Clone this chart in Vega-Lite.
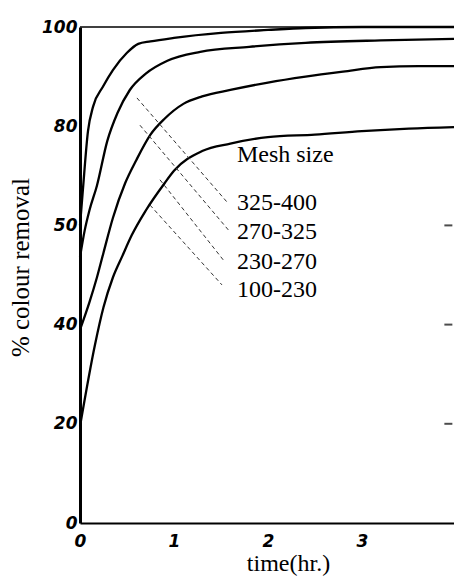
{
  "$schema": "https://vega.github.io/schema/vega-lite/v6.json",
  "width": 374,
  "height": 496,
  "autosize": {"type": "none"},
  "padding": {"left": 80, "top": 27, "right": 0, "bottom": 62},
  "background": "white",
  "config": {"view": {"stroke": null}},
  "datasets": {
    "curves": [
      {"mesh": "325-400", "t": 0, "p": 60},
      {"mesh": "325-400", "t": 0.03, "p": 67},
      {"mesh": "325-400", "t": 0.085, "p": 79},
      {"mesh": "325-400", "t": 0.14, "p": 84},
      {"mesh": "325-400", "t": 0.245, "p": 88},
      {"mesh": "325-400", "t": 0.35, "p": 91.3},
      {"mesh": "325-400", "t": 0.5, "p": 94.8},
      {"mesh": "325-400", "t": 0.62, "p": 96.6},
      {"mesh": "325-400", "t": 0.75, "p": 97.1},
      {"mesh": "325-400", "t": 1.0, "p": 97.8},
      {"mesh": "325-400", "t": 1.5, "p": 98.8},
      {"mesh": "325-400", "t": 2.0, "p": 99.4},
      {"mesh": "325-400", "t": 2.4, "p": 99.8},
      {"mesh": "325-400", "t": 3.0, "p": 100},
      {"mesh": "325-400", "t": 3.98, "p": 100},
      {"mesh": "270-325", "t": 0, "p": 53.6},
      {"mesh": "270-325", "t": 0.05, "p": 59},
      {"mesh": "270-325", "t": 0.1, "p": 63},
      {"mesh": "270-325", "t": 0.18, "p": 68},
      {"mesh": "270-325", "t": 0.29, "p": 77},
      {"mesh": "270-325", "t": 0.4, "p": 82.7},
      {"mesh": "270-325", "t": 0.53, "p": 87.3},
      {"mesh": "270-325", "t": 0.7, "p": 90.6},
      {"mesh": "270-325", "t": 0.93, "p": 93.2},
      {"mesh": "270-325", "t": 1.28, "p": 95},
      {"mesh": "270-325", "t": 1.8, "p": 96},
      {"mesh": "270-325", "t": 2.4, "p": 96.8},
      {"mesh": "270-325", "t": 3.2, "p": 97.3},
      {"mesh": "270-325", "t": 3.98, "p": 97.6},
      {"mesh": "230-270", "t": 0, "p": 39},
      {"mesh": "230-270", "t": 0.1, "p": 44.5},
      {"mesh": "230-270", "t": 0.18, "p": 49.5},
      {"mesh": "230-270", "t": 0.25, "p": 54.5},
      {"mesh": "230-270", "t": 0.35, "p": 61.5},
      {"mesh": "230-270", "t": 0.48, "p": 68.5},
      {"mesh": "230-270", "t": 0.6, "p": 73.2},
      {"mesh": "230-270", "t": 0.75, "p": 78.3},
      {"mesh": "230-270", "t": 0.9, "p": 81.5},
      {"mesh": "230-270", "t": 1.1, "p": 84.5},
      {"mesh": "230-270", "t": 1.3, "p": 86},
      {"mesh": "230-270", "t": 1.6, "p": 87.3},
      {"mesh": "230-270", "t": 2.0, "p": 88.8},
      {"mesh": "230-270", "t": 2.4, "p": 90},
      {"mesh": "230-270", "t": 2.8, "p": 91},
      {"mesh": "230-270", "t": 3.2, "p": 91.9},
      {"mesh": "230-270", "t": 3.6, "p": 92.1},
      {"mesh": "230-270", "t": 3.98, "p": 92.1},
      {"mesh": "100-230", "t": 0, "p": 19.5},
      {"mesh": "100-230", "t": 0.16, "p": 36},
      {"mesh": "100-230", "t": 0.25, "p": 43.5},
      {"mesh": "100-230", "t": 0.35, "p": 49.5},
      {"mesh": "100-230", "t": 0.45, "p": 53.8},
      {"mesh": "100-230", "t": 0.55, "p": 58},
      {"mesh": "100-230", "t": 0.7, "p": 63},
      {"mesh": "100-230", "t": 0.9, "p": 68.5},
      {"mesh": "100-230", "t": 1.0, "p": 71},
      {"mesh": "100-230", "t": 1.3, "p": 75},
      {"mesh": "100-230", "t": 1.6, "p": 76.5},
      {"mesh": "100-230", "t": 2.0, "p": 77.8},
      {"mesh": "100-230", "t": 2.5, "p": 78.3},
      {"mesh": "100-230", "t": 3.0, "p": 79},
      {"mesh": "100-230", "t": 3.5, "p": 79.5},
      {"mesh": "100-230", "t": 3.98, "p": 79.8}
    ],
    "leaders": [
      {"mesh": "325-400", "t1": 0.606, "p1": 85.7, "t2": 1.574, "p2": 64.5},
      {"mesh": "270-325", "t1": 0.638, "p1": 80.2, "t2": 1.596, "p2": 58.7},
      {"mesh": "230-270", "t1": 0.851, "p1": 69.2, "t2": 1.543, "p2": 52.6},
      {"mesh": "100-230", "t1": 0.745, "p1": 64.1, "t2": 1.511, "p2": 48.0}
    ],
    "labels": [
      {"t": 1.67, "p": 74.2, "text": "Mesh size"},
      {"t": 1.67, "p": 64.5, "text": "325-400"},
      {"t": 1.67, "p": 58.7, "text": "270-325"},
      {"t": 1.67, "p": 52.6, "text": "230-270"},
      {"t": 1.67, "p": 47.0, "text": "100-230"}
    ]
  },
  "layer": [
    {
      "data": {"name": "curves"},
      "mark": {"type": "line", "color": "black", "strokeWidth": 2.3, "interpolate": "monotone"},
      "encoding": {
        "x": {
          "field": "t", "type": "quantitative",
          "scale": {"domain": [0, 3.98], "nice": false},
          "axis": {
            "orient": "bottom", "values": [0, 1, 2, 3, 4], "format": "d", "title": "time(hr.)",
            "domainColor": "black", "domainWidth": 2, "ticks": false,
            "labelFont": "DejaVu Sans", "labelFontSize": 17, "labelFontWeight": "bold", "labelFontStyle": "italic",
            "labelColor": "black", "labelPadding": 10, "labelFlush": false,
            "titleFont": "Liberation Serif", "titleFontSize": 24, "titleFontWeight": "normal",
            "titleColor": "black", "titlePadding": 2, "titleX": 208, "grid": false
          }
        },
        "y": {
          "field": "p", "type": "quantitative",
          "scale": {"domain": [0, 100], "nice": false},
          "axis": {
            "orient": "left", "values": [0, 20, 40, 60, 80, 100], "title": "% colour removal",
            "labelExpr": "datum.value == 60 ? '50' : datum.label",
            "domainColor": "black", "domainWidth": 3, "ticks": false,
            "labelFont": "DejaVu Sans", "labelFontSize": 17, "labelFontWeight": "bold", "labelFontStyle": "italic",
            "labelColor": "black", "labelPadding": 3,
            "titleFont": "Liberation Serif", "titleFontSize": 25, "titleFontWeight": "normal",
            "titleColor": "black", "titlePadding": 8, "titleY": 240, "grid": false
          }
        },
        "detail": {"field": "mesh"}
      }
    },
    {
      "data": {"values": [{"v": 100}]},
      "mark": {"type": "rule", "color": "black", "strokeWidth": 1.5},
      "encoding": {"y": {"field": "v", "type": "quantitative"}}
    },
    {
      "data": {"values": [{"v": 20}, {"v": 40}, {"v": 60}]},
      "mark": {"type": "tick", "color": "black", "thickness": 2, "size": 8, "orient": "horizontal"},
      "encoding": {
        "y": {"field": "v", "type": "quantitative"},
        "x": {"datum": 3.92, "type": "quantitative"}
      }
    },
    {
      "data": {"name": "leaders"},
      "mark": {"type": "rule", "color": "#333333", "strokeWidth": 1, "strokeDash": [4, 3]},
      "encoding": {
        "x": {"field": "t1", "type": "quantitative"},
        "y": {"field": "p1", "type": "quantitative"},
        "x2": {"field": "t2"},
        "y2": {"field": "p2"}
      }
    },
    {
      "data": {"name": "labels"},
      "mark": {"type": "text", "font": "Liberation Serif", "fontSize": 24, "align": "left", "baseline": "middle", "color": "black"},
      "encoding": {
        "x": {"field": "t", "type": "quantitative"},
        "y": {"field": "p", "type": "quantitative"},
        "text": {"field": "text"}
      }
    }
  ]
}
